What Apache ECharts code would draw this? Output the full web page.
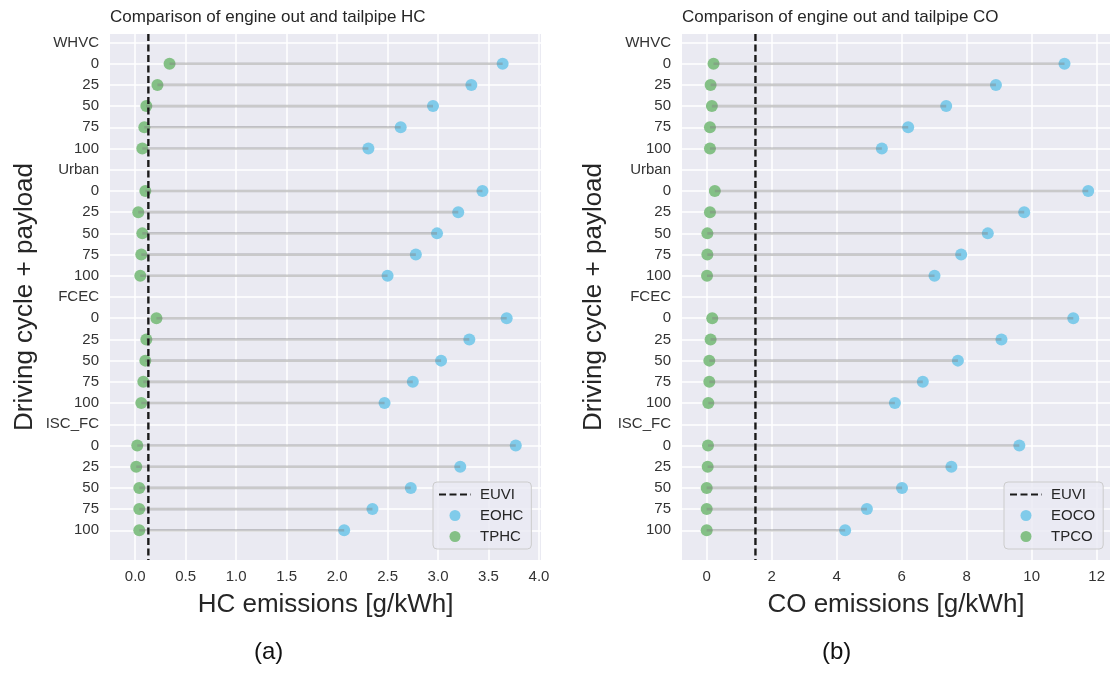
<!DOCTYPE html>
<html><head><meta charset="utf-8">
<script src="https://cdn.jsdelivr.net/npm/echarts@6/dist/echarts.min.js"></script>
<style>html,body{margin:0;padding:0;background:#fff}#c{width:1112px;height:673px}</style>
</head><body><div id="c"></div><script>
// ---- categories ----
const cycles = ['WHVC', 'Urban', 'FCEC', 'ISC_FC'];
const payloads = ['0', '25', '50', '75', '100'];
// ---- HC emissions [g/kWh], order: cycle x payload ----
const eoHC = [3.64, 3.33, 2.95, 2.63, 2.31,
              3.44, 3.20, 2.99, 2.78, 2.50,
              3.68, 3.31, 3.03, 2.75, 2.47,
              3.77, 3.22, 2.73, 2.35, 2.07];
const tpHC = [0.34, 0.22, 0.11, 0.09, 0.07,
              0.10, 0.03, 0.07, 0.06, 0.05,
              0.21, 0.11, 0.10, 0.08, 0.06,
              0.02, 0.01, 0.04, 0.04, 0.04];
// ---- CO emissions [g/kWh] ----
const eoCO = [11.01, 8.90, 7.37, 6.20, 5.39,
              11.74, 9.77, 8.65, 7.83, 7.01,
              11.28, 9.07, 7.73, 6.65, 5.79,
              9.62, 7.53, 6.01, 4.93, 4.26];
const tpCO = [0.21, 0.12, 0.16, 0.10, 0.10,
              0.25, 0.10, 0.02, 0.02, 0.01,
              0.17, 0.12, 0.08, 0.08, 0.05,
              0.04, 0.03, 0.00, 0.00, 0.00];
// ---- limits ----
const euviHC = 0.13;
const euviCO = 1.5;
// ---- tick labels ----
const hcTicks = [0, 0.5, 1, 1.5, 2, 2.5, 3, 3.5, 4];
const coTicks = [0, 2, 4, 6, 8, 10, 12];

// build row labels and positions
const rowLabels = [];
const rowIndexOf = []; // for each data point
cycles.forEach((c, ci) => {
  rowLabels.push(c);
  payloads.forEach((p, pi) => {
    rowIndexOf.push(rowLabels.length);
    rowLabels.push(p);
  });
});
const rowTicks = rowLabels.map((_, i) => i);
const Y_MIN = -0.4, Y_MAX = 24.4;

const FONT = "'Liberation Sans', Arial, sans-serif";
const BG = '#EAEAF2';
const BLUE = '#80cbea';
const GREEN = '#84c086';

function seg(eo, tp) { return eo.map((v, i) => [tp[i], v, rowIndexOf[i]]); }
function pts(arr) { return arr.map((v, i) => [v, rowIndexOf[i]]); }

function xAxisCfg(gi, min, max, ticks, fmt) {
  return {
    type: 'value', gridIndex: gi, min: min, max: max,
    axisLine: { show: false },
    axisTick: { show: false, customValues: ticks },
    axisLabel: { customValues: ticks, formatter: fmt, color: '#333', fontSize: 15, fontFamily: FONT, margin: 9 },
    splitLine: { show: true, lineStyle: { color: '#ffffff', width: 1.5 } },
    name: gi === 0 ? 'HC emissions [g/kWh]' : 'CO emissions [g/kWh]',
    nameLocation: 'middle', nameGap: 32,
    nameTextStyle: { fontSize: 26, color: '#262626', fontFamily: FONT }
  };
}
function yAxisCfg(gi, gap) {
  return {
    type: 'value', gridIndex: gi, min: Y_MIN, max: Y_MAX, inverse: true,
    axisLine: { show: false },
    axisTick: { show: false, customValues: rowTicks },
    axisLabel: { customValues: rowTicks, formatter: v => rowLabels[Math.round(v)], color: '#333', fontSize: 15, fontFamily: FONT, margin: 11 },
    splitLine: { show: true, lineStyle: { color: '#ffffff', width: 1.5 } },
    name: 'Driving cycle + payload', nameLocation: 'middle', nameGap: gap, nameRotate: 90,
    nameTextStyle: { fontSize: 26, color: '#262626', fontFamily: FONT }
  };
}
function lollipop(gi, eo, tp) {
  return {
    type: 'custom', xAxisIndex: gi, yAxisIndex: gi, z: 3, silent: true,
    encode: { x: [0, 1], y: 2 },
    data: seg(eo, tp),
    renderItem: (params, api) => {
      const a = api.coord([api.value(0), api.value(2)]);
      const b = api.coord([api.value(1), api.value(2)]);
      return { type: 'line', shape: { x1: a[0], y1: a[1], x2: b[0], y2: b[1] },
               style: { stroke: 'rgba(128,128,128,0.4)', lineWidth: 2.6 } };
    }
  };
}
function dots(gi, name, arr, color) {
  return { type: 'scatter', name: name, xAxisIndex: gi, yAxisIndex: gi, z: 2,
           symbolSize: 12, itemStyle: { color: color, opacity: 1 }, data: pts(arr) };
}
function limit(gi, v) {
  return { type: 'line', name: 'EUVI', xAxisIndex: gi, yAxisIndex: gi, z: 5, symbol: 'none',
           lineStyle: { color: '#1a1a1a', width: 2.4, type: [7, 3.5] },
           itemStyle: { color: '#1a1a1a' },
           data: [[v, Y_MIN], [v, Y_MAX]] };
}
function legendCfg(left, names) {
  return {
    left: left, top: 482, orient: 'vertical', itemWidth: 32, itemHeight: 11, itemGap: 6,
    padding: [5, 8, 5, 5],
    backgroundColor: 'rgba(234,234,242,0.8)', borderColor: '#cccccc', borderWidth: 1, borderRadius: 4,
    textStyle: { fontSize: 15, color: '#262626', fontFamily: FONT, padding: [0, 0, 0, 4] },
    data: [{ name: names[0], itemStyle: { opacity: 0 } }, names[1], names[2]]
  };
}

const chart = echarts.init(document.getElementById('c'), null, { renderer: 'canvas' });
chart.setOption({
  backgroundColor: '#ffffff',
  animation: false,
  title: [
    { text: 'Comparison of engine out and tailpipe HC', left: 110, top: 9, padding: 0,
      textStyle: { fontSize: 17, fontWeight: 'normal', color: '#262626', fontFamily: FONT } },
    { text: 'Comparison of engine out and tailpipe CO', left: 682, top: 9, padding: 0,
      textStyle: { fontSize: 17, fontWeight: 'normal', color: '#262626', fontFamily: FONT } }
  ],
  grid: [
    { left: 110, top: 34, width: 431, height: 526, show: true, backgroundColor: BG, borderWidth: 0 },
    { left: 682, top: 34, width: 428, height: 526, show: true, backgroundColor: BG, borderWidth: 0 }
  ],
  xAxis: [
    xAxisCfg(0, -0.25, 4.02, hcTicks, v => v.toFixed(1)),
    xAxisCfg(1, -0.76, 12.41, coTicks, v => String(v))
  ],
  yAxis: [yAxisCfg(0, 72), yAxisCfg(1, 75)],
  legend: [
    legendCfg(433, ['EUVI', 'EOHC', 'TPHC']),
    legendCfg(1004, ['EUVI', 'EOCO', 'TPCO'])
  ],
  series: [
    dots(0, 'EOHC', eoHC, BLUE),
    dots(0, 'TPHC', tpHC, GREEN),
    lollipop(0, eoHC, tpHC),
    limit(0, euviHC),
    dots(1, 'EOCO', eoCO, BLUE),
    dots(1, 'TPCO', tpCO, GREEN),
    lollipop(1, eoCO, tpCO),
    limit(1, euviCO)
  ],
  graphic: [
    { type: 'text', left: 268 - 14, top: 640, style: { text: '(a)', fontSize: 24, fill: '#111', fontFamily: FONT } },
    { type: 'text', left: 836 - 14, top: 640, style: { text: '(b)', fontSize: 24, fill: '#111', fontFamily: FONT } }
  ]
});
</script></body></html>
